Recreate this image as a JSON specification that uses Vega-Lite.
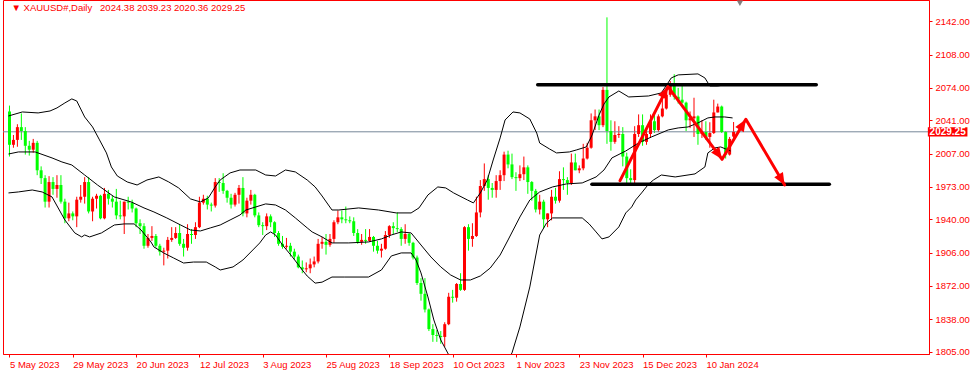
{
"$schema":"https://vega.github.io/schema/vega-lite/v6.json",
"width":926,"height":354,
"autosize":{"type":"none"},
"padding":{"left":3,"top":0,"right":47,"bottom":19},
"background":"white",
"datasets":{
"candles":[
{"d":"2023-05-05","i":0,"o":2050,"h":2056,"l":2004,"c":2016},
{"d":"2023-05-08","i":1,"o":2016,"h":2026,"l":2013,"c":2021},
{"d":"2023-05-09","i":2,"o":2021,"h":2037,"l":2014,"c":2034},
{"d":"2023-05-10","i":3,"o":2034,"h":2048,"l":2021,"c":2030},
{"d":"2023-05-11","i":4,"o":2030,"h":2034,"l":2006,"c":2015},
{"d":"2023-05-12","i":5,"o":2015,"h":2020,"l":2005,"c":2011},
{"d":"2023-05-15","i":6,"o":2011,"h":2022,"l":2008,"c":2018},
{"d":"2023-05-16","i":7,"o":2018,"h":2020,"l":1985,"c":1990},
{"d":"2023-05-17","i":8,"o":1990,"h":1994,"l":1976,"c":1982},
{"d":"2023-05-18","i":9,"o":1982,"h":1985,"l":1952,"c":1958},
{"d":"2023-05-19","i":10,"o":1958,"h":1984,"l":1952,"c":1978},
{"d":"2023-05-22","i":11,"o":1978,"h":1983,"l":1965,"c":1971},
{"d":"2023-05-23","i":12,"o":1971,"h":1985,"l":1962,"c":1975},
{"d":"2023-05-24","i":13,"o":1975,"h":1985,"l":1956,"c":1958},
{"d":"2023-05-25","i":14,"o":1958,"h":1961,"l":1936,"c":1941},
{"d":"2023-05-26","i":15,"o":1941,"h":1957,"l":1938,"c":1946},
{"d":"2023-05-29","i":16,"o":1946,"h":1948,"l":1939,"c":1943},
{"d":"2023-05-30","i":17,"o":1943,"h":1963,"l":1932,"c":1960},
{"d":"2023-05-31","i":18,"o":1960,"h":1975,"l":1957,"c":1963},
{"d":"2023-06-01","i":19,"o":1963,"h":1983,"l":1956,"c":1978},
{"d":"2023-06-02","i":20,"o":1978,"h":1983,"l":1946,"c":1948},
{"d":"2023-06-05","i":21,"o":1948,"h":1963,"l":1938,"c":1961},
{"d":"2023-06-06","i":22,"o":1961,"h":1966,"l":1951,"c":1964},
{"d":"2023-06-07","i":23,"o":1964,"h":1965,"l":1940,"c":1941},
{"d":"2023-06-08","i":24,"o":1941,"h":1972,"l":1940,"c":1966},
{"d":"2023-06-09","i":25,"o":1966,"h":1970,"l":1955,"c":1961},
{"d":"2023-06-12","i":26,"o":1961,"h":1964,"l":1952,"c":1958},
{"d":"2023-06-13","i":27,"o":1958,"h":1971,"l":1940,"c":1944},
{"d":"2023-06-14","i":28,"o":1944,"h":1959,"l":1940,"c":1943},
{"d":"2023-06-15","i":29,"o":1943,"h":1958,"l":1925,"c":1958},
{"d":"2023-06-16","i":30,"o":1958,"h":1963,"l":1950,"c":1957},
{"d":"2023-06-19","i":31,"o":1957,"h":1960,"l":1947,"c":1951},
{"d":"2023-06-20","i":32,"o":1951,"h":1952,"l":1932,"c":1936},
{"d":"2023-06-21","i":33,"o":1936,"h":1940,"l":1925,"c":1933},
{"d":"2023-06-22","i":34,"o":1933,"h":1936,"l":1910,"c":1913},
{"d":"2023-06-23","i":35,"o":1913,"h":1925,"l":1911,"c":1921},
{"d":"2023-06-26","i":36,"o":1921,"h":1933,"l":1918,"c":1923},
{"d":"2023-06-27","i":37,"o":1923,"h":1925,"l":1911,"c":1913},
{"d":"2023-06-28","i":38,"o":1913,"h":1915,"l":1903,"c":1907},
{"d":"2023-06-29","i":39,"o":1907,"h":1911,"l":1893,"c":1908},
{"d":"2023-06-30","i":40,"o":1908,"h":1922,"l":1900,"c":1919},
{"d":"2023-07-03","i":41,"o":1919,"h":1932,"l":1917,"c":1921},
{"d":"2023-07-04","i":42,"o":1921,"h":1932,"l":1920,"c":1926},
{"d":"2023-07-05","i":43,"o":1926,"h":1935,"l":1913,"c":1915},
{"d":"2023-07-06","i":44,"o":1915,"h":1920,"l":1902,"c":1911},
{"d":"2023-07-07","i":45,"o":1911,"h":1935,"l":1908,"c":1925},
{"d":"2023-07-10","i":46,"o":1925,"h":1930,"l":1915,"c":1924},
{"d":"2023-07-11","i":47,"o":1924,"h":1937,"l":1920,"c":1932},
{"d":"2023-07-12","i":48,"o":1932,"h":1963,"l":1931,"c":1957},
{"d":"2023-07-13","i":49,"o":1957,"h":1965,"l":1955,"c":1961},
{"d":"2023-07-14","i":50,"o":1961,"h":1964,"l":1950,"c":1955},
{"d":"2023-07-17","i":51,"o":1955,"h":1957,"l":1948,"c":1954},
{"d":"2023-07-18","i":52,"o":1954,"h":1982,"l":1952,"c":1978},
{"d":"2023-07-19","i":53,"o":1978,"h":1982,"l":1968,"c":1977},
{"d":"2023-07-20","i":54,"o":1977,"h":1987,"l":1966,"c":1969},
{"d":"2023-07-21","i":55,"o":1969,"h":1970,"l":1957,"c":1962},
{"d":"2023-07-24","i":56,"o":1962,"h":1966,"l":1951,"c":1955},
{"d":"2023-07-25","i":57,"o":1955,"h":1967,"l":1953,"c":1965},
{"d":"2023-07-26","i":58,"o":1965,"h":1975,"l":1956,"c":1972},
{"d":"2023-07-27","i":59,"o":1972,"h":1983,"l":1943,"c":1946},
{"d":"2023-07-28","i":60,"o":1946,"h":1962,"l":1942,"c":1959},
{"d":"2023-07-31","i":61,"o":1959,"h":1970,"l":1955,"c":1965},
{"d":"2023-08-01","i":62,"o":1965,"h":1966,"l":1942,"c":1944},
{"d":"2023-08-02","i":63,"o":1944,"h":1947,"l":1932,"c":1934},
{"d":"2023-08-03","i":64,"o":1934,"h":1937,"l":1924,"c":1933},
{"d":"2023-08-04","i":65,"o":1933,"h":1946,"l":1929,"c":1943},
{"d":"2023-08-07","i":66,"o":1943,"h":1945,"l":1932,"c":1937},
{"d":"2023-08-08","i":67,"o":1937,"h":1938,"l":1922,"c":1926},
{"d":"2023-08-09","i":68,"o":1926,"h":1928,"l":1913,"c":1915},
{"d":"2023-08-10","i":69,"o":1915,"h":1923,"l":1910,"c":1912},
{"d":"2023-08-11","i":70,"o":1912,"h":1921,"l":1910,"c":1913},
{"d":"2023-08-14","i":71,"o":1913,"h":1916,"l":1902,"c":1907},
{"d":"2023-08-15","i":72,"o":1907,"h":1910,"l":1899,"c":1902},
{"d":"2023-08-16","i":73,"o":1902,"h":1904,"l":1890,"c":1891},
{"d":"2023-08-17","i":74,"o":1891,"h":1898,"l":1885,"c":1889},
{"d":"2023-08-18","i":75,"o":1889,"h":1896,"l":1886,"c":1890},
{"d":"2023-08-21","i":76,"o":1890,"h":1900,"l":1885,"c":1894},
{"d":"2023-08-22","i":77,"o":1894,"h":1902,"l":1891,"c":1897},
{"d":"2023-08-23","i":78,"o":1897,"h":1920,"l":1895,"c":1915},
{"d":"2023-08-24","i":79,"o":1915,"h":1922,"l":1910,"c":1917},
{"d":"2023-08-25","i":80,"o":1917,"h":1925,"l":1904,"c":1914},
{"d":"2023-08-28","i":81,"o":1914,"h":1925,"l":1912,"c":1920},
{"d":"2023-08-29","i":82,"o":1920,"h":1939,"l":1916,"c":1937},
{"d":"2023-08-30","i":83,"o":1937,"h":1949,"l":1935,"c":1942},
{"d":"2023-08-31","i":84,"o":1942,"h":1949,"l":1936,"c":1940},
{"d":"2023-09-01","i":85,"o":1940,"h":1953,"l":1936,"c":1939},
{"d":"2023-09-04","i":86,"o":1939,"h":1943,"l":1936,"c":1938},
{"d":"2023-09-05","i":87,"o":1938,"h":1942,"l":1923,"c":1926},
{"d":"2023-09-06","i":88,"o":1926,"h":1930,"l":1915,"c":1917},
{"d":"2023-09-07","i":89,"o":1917,"h":1925,"l":1914,"c":1919},
{"d":"2023-09-08","i":90,"o":1919,"h":1930,"l":1915,"c":1918},
{"d":"2023-09-11","i":91,"o":1918,"h":1930,"l":1917,"c":1922},
{"d":"2023-09-12","i":92,"o":1922,"h":1923,"l":1907,"c":1913},
{"d":"2023-09-13","i":93,"o":1913,"h":1918,"l":1905,"c":1908},
{"d":"2023-09-14","i":94,"o":1908,"h":1915,"l":1901,"c":1910},
{"d":"2023-09-15","i":95,"o":1910,"h":1928,"l":1909,"c":1924},
{"d":"2023-09-18","i":96,"o":1924,"h":1934,"l":1921,"c":1933},
{"d":"2023-09-19","i":97,"o":1933,"h":1937,"l":1925,"c":1931},
{"d":"2023-09-20","i":98,"o":1931,"h":1947,"l":1927,"c":1930},
{"d":"2023-09-21","i":99,"o":1930,"h":1932,"l":1913,"c":1920},
{"d":"2023-09-22","i":100,"o":1920,"h":1935,"l":1915,"c":1925},
{"d":"2023-09-25","i":101,"o":1925,"h":1926,"l":1913,"c":1916},
{"d":"2023-09-26","i":102,"o":1916,"h":1917,"l":1899,"c":1901},
{"d":"2023-09-27","i":103,"o":1901,"h":1903,"l":1873,"c":1875},
{"d":"2023-09-28","i":104,"o":1875,"h":1880,"l":1857,"c":1864},
{"d":"2023-09-29","i":105,"o":1864,"h":1880,"l":1845,"c":1848},
{"d":"2023-10-02","i":106,"o":1848,"h":1849,"l":1826,"c":1828},
{"d":"2023-10-03","i":107,"o":1828,"h":1833,"l":1815,"c":1822},
{"d":"2023-10-04","i":108,"o":1822,"h":1827,"l":1815,"c":1821},
{"d":"2023-10-05","i":109,"o":1821,"h":1826,"l":1813,"c":1820},
{"d":"2023-10-06","i":110,"o":1820,"h":1835,"l":1810,"c":1833},
{"d":"2023-10-09","i":111,"o":1833,"h":1865,"l":1832,"c":1861},
{"d":"2023-10-10","i":112,"o":1861,"h":1868,"l":1855,"c":1860},
{"d":"2023-10-11","i":113,"o":1860,"h":1875,"l":1856,"c":1874},
{"d":"2023-10-12","i":114,"o":1874,"h":1885,"l":1867,"c":1868},
{"d":"2023-10-13","i":115,"o":1868,"h":1933,"l":1867,"c":1932},
{"d":"2023-10-16","i":116,"o":1932,"h":1935,"l":1908,"c":1920},
{"d":"2023-10-17","i":117,"o":1920,"h":1936,"l":1912,"c":1923},
{"d":"2023-10-18","i":118,"o":1923,"h":1963,"l":1922,"c":1947},
{"d":"2023-10-19","i":119,"o":1947,"h":1980,"l":1942,"c":1974},
{"d":"2023-10-20","i":120,"o":1974,"h":1997,"l":1969,"c":1981},
{"d":"2023-10-23","i":121,"o":1981,"h":1985,"l":1960,"c":1972},
{"d":"2023-10-24","i":122,"o":1972,"h":1977,"l":1962,"c":1970},
{"d":"2023-10-25","i":123,"o":1970,"h":1985,"l":1962,"c":1979},
{"d":"2023-10-26","i":124,"o":1979,"h":1990,"l":1970,"c":1985},
{"d":"2023-10-27","i":125,"o":1985,"h":2009,"l":1979,"c":2006},
{"d":"2023-10-30","i":126,"o":2006,"h":2010,"l":1992,"c":1996},
{"d":"2023-10-31","i":127,"o":1996,"h":2007,"l":1981,"c":1983},
{"d":"2023-11-01","i":128,"o":1983,"h":1988,"l":1969,"c":1982},
{"d":"2023-11-02","i":129,"o":1982,"h":1995,"l":1979,"c":1986},
{"d":"2023-11-03","i":130,"o":1986,"h":2004,"l":1980,"c":1993},
{"d":"2023-11-06","i":131,"o":1993,"h":1995,"l":1966,"c":1978},
{"d":"2023-11-07","i":132,"o":1978,"h":1979,"l":1959,"c":1969},
{"d":"2023-11-08","i":133,"o":1969,"h":1971,"l":1947,"c":1950},
{"d":"2023-11-09","i":134,"o":1950,"h":1965,"l":1945,"c":1958},
{"d":"2023-11-10","i":135,"o":1958,"h":1960,"l":1931,"c":1940},
{"d":"2023-11-13","i":136,"o":1940,"h":1946,"l":1932,"c":1946},
{"d":"2023-11-14","i":137,"o":1946,"h":1970,"l":1939,"c":1963},
{"d":"2023-11-15","i":138,"o":1963,"h":1972,"l":1956,"c":1959},
{"d":"2023-11-16","i":139,"o":1959,"h":1989,"l":1957,"c":1981},
{"d":"2023-11-17","i":140,"o":1981,"h":1993,"l":1970,"c":1980},
{"d":"2023-11-20","i":141,"o":1980,"h":1983,"l":1965,"c":1977},
{"d":"2023-11-21","i":142,"o":1977,"h":2007,"l":1975,"c":1998},
{"d":"2023-11-22","i":143,"o":1998,"h":2007,"l":1990,"c":1990},
{"d":"2023-11-23","i":144,"o":1990,"h":1995,"l":1987,"c":1992},
{"d":"2023-11-24","i":145,"o":1992,"h":2017,"l":1990,"c":2002},
{"d":"2023-11-27","i":146,"o":2002,"h":2018,"l":2001,"c":2013},
{"d":"2023-11-28","i":147,"o":2013,"h":2048,"l":2012,"c":2041},
{"d":"2023-11-29","i":148,"o":2041,"h":2052,"l":2031,"c":2045},
{"d":"2023-11-30","i":149,"o":2045,"h":2052,"l":2031,"c":2036},
{"d":"2023-12-01","i":150,"o":2036,"h":2075,"l":2034,"c":2072},
{"d":"2023-12-04","i":151,"o":2072,"h":2146,"l":2017,"c":2030},
{"d":"2023-12-05","i":152,"o":2030,"h":2041,"l":2010,"c":2019},
{"d":"2023-12-06","i":153,"o":2019,"h":2040,"l":2017,"c":2026},
{"d":"2023-12-07","i":154,"o":2026,"h":2035,"l":2023,"c":2027},
{"d":"2023-12-08","i":155,"o":2027,"h":2034,"l":1994,"c":2004},
{"d":"2023-12-11","i":156,"o":2004,"h":2008,"l":1976,"c":1982},
{"d":"2023-12-12","i":157,"o":1982,"h":1991,"l":1976,"c":1980},
{"d":"2023-12-13","i":158,"o":1980,"h":2035,"l":1976,"c":2027},
{"d":"2023-12-14","i":159,"o":2027,"h":2047,"l":2024,"c":2036},
{"d":"2023-12-15","i":160,"o":2036,"h":2047,"l":2015,"c":2019},
{"d":"2023-12-18","i":161,"o":2019,"h":2032,"l":2016,"c":2027},
{"d":"2023-12-19","i":162,"o":2027,"h":2047,"l":2023,"c":2040},
{"d":"2023-12-20","i":163,"o":2040,"h":2047,"l":2028,"c":2031},
{"d":"2023-12-21","i":164,"o":2031,"h":2047,"l":2029,"c":2045},
{"d":"2023-12-22","i":165,"o":2045,"h":2071,"l":2044,"c":2053},
{"d":"2023-12-26","i":166,"o":2053,"h":2070,"l":2052,"c":2067},
{"d":"2023-12-27","i":167,"o":2067,"h":2081,"l":2065,"c":2077},
{"d":"2023-12-28","i":168,"o":2077,"h":2088,"l":2062,"c":2065},
{"d":"2023-12-29","i":169,"o":2065,"h":2074,"l":2058,"c":2062},
{"d":"2024-01-02","i":170,"o":2062,"h":2078,"l":2058,"c":2059},
{"d":"2024-01-03","i":171,"o":2059,"h":2060,"l":2030,"c":2041},
{"d":"2024-01-04","i":172,"o":2041,"h":2050,"l":2033,"c":2043},
{"d":"2024-01-05","i":173,"o":2043,"h":2064,"l":2024,"c":2045},
{"d":"2024-01-08","i":174,"o":2045,"h":2046,"l":2016,"c":2027},
{"d":"2024-01-09","i":175,"o":2027,"h":2041,"l":2023,"c":2029},
{"d":"2024-01-10","i":176,"o":2029,"h":2040,"l":2021,"c":2024},
{"d":"2024-01-11","i":177,"o":2024,"h":2039,"l":2013,"c":2028},
{"d":"2024-01-12","i":178,"o":2028,"h":2062,"l":2027,"c":2049},
{"d":"2024-01-15","i":179,"o":2049,"h":2058,"l":2049,"c":2055},
{"d":"2024-01-16","i":180,"o":2055,"h":2056,"l":2028,"c":2029},
{"d":"2024-01-17","i":181,"o":2029,"h":2030,"l":2002,"c":2006},
{"d":"2024-01-18","i":182,"o":2006,"h":2024,"l":2005,"c":2022},
{"d":"2024-01-19","i":183,"o":2024.38,"h":2039.23,"l":2020.36,"c":2029.25}
],
"bb":[
{"b":"u","i":-0.25,"p":2045.4},{"b":"u","i":3.25,"p":2049.5},{"b":"u","i":7.25,"p":2048.5},{"b":"u","i":10.25,"p":2050.5},{"b":"u","i":12,"p":2053.6},{"b":"u","i":14,"p":2058.7},{"b":"u","i":15.75,"p":2062.8},{"b":"u","i":17,"p":2060.7},{"b":"u","i":19,"p":2044.4},{"b":"u","i":21,"p":2034.2},{"b":"u","i":22.75,"p":2021},{"b":"u","i":24.5,"p":2007.7},{"b":"u","i":25.75,"p":1993.4},{"b":"u","i":27.25,"p":1984.2},{"b":"u","i":29.75,"p":1978.1},{"b":"u","i":32.25,"p":1975},{"b":"u","i":34.75,"p":1980.1},{"b":"u","i":37.75,"p":1983.2},{"b":"u","i":40.25,"p":1978.1},{"b":"u","i":42.75,"p":1972},{"b":"u","i":45.75,"p":1960.8},{"b":"u","i":48.25,"p":1957.7},{"b":"u","i":50.25,"p":1961.8},{"b":"u","i":52,"p":1973},{"b":"u","i":53.25,"p":1980.1},{"b":"u","i":55.75,"p":1987.3},{"b":"u","i":58.25,"p":1990.3},{"b":"u","i":62.25,"p":1990.3},{"b":"u","i":64.75,"p":1985.2},{"b":"u","i":67.25,"p":1984.2},{"b":"u","i":69.75,"p":1990.3},{"b":"u","i":72.25,"p":1988.3},{"b":"u","i":75.25,"p":1980.1},{"b":"u","i":77.25,"p":1973},{"b":"u","i":79,"p":1963.8},{"b":"u","i":81.5,"p":1949.5},{"b":"u","i":83.25,"p":1949.5},{"b":"u","i":88.25,"p":1951.6},{"b":"u","i":93.25,"p":1949.5},{"b":"u","i":97.75,"p":1946.5},{"b":"u","i":101.5,"p":1946.5},{"b":"u","i":103.5,"p":1951.6},{"b":"u","i":105.75,"p":1964.8},{"b":"u","i":108.25,"p":1973},{"b":"u","i":110.25,"p":1972},{"b":"u","i":112.25,"p":1966.9},{"b":"u","i":115.75,"p":1959.7},{"b":"u","i":117.25,"p":1956.7},{"b":"u","i":119,"p":1966.9},{"b":"u","i":120.75,"p":1980.1},{"b":"u","i":122.25,"p":2000.5},{"b":"u","i":124,"p":2023},{"b":"u","i":125.25,"p":2041.3},{"b":"u","i":127.25,"p":2049.5},{"b":"u","i":129,"p":2048.5},{"b":"u","i":131.5,"p":2042.3},{"b":"u","i":133.25,"p":2028},{"b":"u","i":134,"p":2017.8},{"b":"u","i":136.5,"p":2011.7},{"b":"u","i":138.25,"p":2007.7},{"b":"u","i":141.5,"p":2008.7},{"b":"u","i":143.25,"p":2010.7},{"b":"u","i":145.75,"p":2013.8},{"b":"u","i":147.25,"p":2026},{"b":"u","i":149,"p":2046.4},{"b":"u","i":150.25,"p":2057.6},{"b":"u","i":151.5,"p":2064.8},{"b":"u","i":154,"p":2070.9},{"b":"u","i":156.5,"p":2064.8},{"b":"u","i":161.5,"p":2065.8},{"b":"u","i":164.75,"p":2068.9},{"b":"u","i":167.25,"p":2084.2},{"b":"u","i":169,"p":2087.3},{"b":"u","i":174,"p":2088.3},{"b":"u","i":175.75,"p":2084.2},{"b":"u","i":177,"p":2076},{"b":"u","i":179,"p":2076},{"b":"u","i":182.25,"p":2078.1},{"b":"u","i":183.25,"p":2077},
{"b":"m","i":-0.25,"p":2006.6},{"b":"m","i":2.25,"p":2008.7},{"b":"m","i":6.5,"p":2008.7},{"b":"m","i":10.75,"p":2002.6},{"b":"m","i":13.25,"p":1998.5},{"b":"m","i":15.75,"p":1995.4},{"b":"m","i":19,"p":1985.2},{"b":"m","i":22.25,"p":1975},{"b":"m","i":26.5,"p":1962.8},{"b":"m","i":30.75,"p":1957.7},{"b":"m","i":34,"p":1951.6},{"b":"m","i":36.5,"p":1947.5},{"b":"m","i":39.75,"p":1941.4},{"b":"m","i":43.25,"p":1934.2},{"b":"m","i":45.75,"p":1929.1},{"b":"m","i":48.25,"p":1928.1},{"b":"m","i":50.75,"p":1931.2},{"b":"m","i":53.25,"p":1934.2},{"b":"m","i":55.75,"p":1939.3},{"b":"m","i":58.25,"p":1944.4},{"b":"m","i":59.75,"p":1949.5},{"b":"m","i":62.25,"p":1952.6},{"b":"m","i":64.75,"p":1955.7},{"b":"m","i":67.25,"p":1954.6},{"b":"m","i":69.75,"p":1949.5},{"b":"m","i":72.25,"p":1941.4},{"b":"m","i":75.25,"p":1931.2},{"b":"m","i":76.5,"p":1927.1},{"b":"m","i":79,"p":1922},{"b":"m","i":81.5,"p":1915.9},{"b":"m","i":85.75,"p":1915.9},{"b":"m","i":90.75,"p":1916.9},{"b":"m","i":94,"p":1920},{"b":"m","i":96.5,"p":1924},{"b":"m","i":99,"p":1927.1},{"b":"m","i":101.5,"p":1926.1},{"b":"m","i":104,"p":1913.8},{"b":"m","i":106.5,"p":1901.6},{"b":"m","i":109,"p":1891.4},{"b":"m","i":111.5,"p":1883.2},{"b":"m","i":114,"p":1878.1},{"b":"m","i":116.5,"p":1878.1},{"b":"m","i":119,"p":1882.2},{"b":"m","i":121.5,"p":1890.3},{"b":"m","i":124,"p":1903.6},{"b":"m","i":126,"p":1918.9},{"b":"m","i":129,"p":1942.4},{"b":"m","i":131.5,"p":1959.7},{"b":"m","i":134,"p":1967.9},{"b":"m","i":137.25,"p":1973},{"b":"m","i":140.75,"p":1976.1},{"b":"m","i":144.75,"p":1977.1},{"b":"m","i":148.25,"p":1983.2},{"b":"m","i":150.25,"p":1990.3},{"b":"m","i":152.25,"p":2002.6},{"b":"m","i":155.75,"p":2009.7},{"b":"m","i":159,"p":2017.9},{"b":"m","i":162.25,"p":2024},{"b":"m","i":166.5,"p":2031.2},{"b":"m","i":169,"p":2033.2},{"b":"m","i":171.5,"p":2034.2},{"b":"m","i":174,"p":2038.3},{"b":"m","i":176.5,"p":2043.4},{"b":"m","i":178.25,"p":2044.4},{"b":"m","i":180.75,"p":2044.4},{"b":"m","i":182.75,"p":2043.4},
{"b":"l","i":-0.25,"p":1966.9},{"b":"l","i":2.25,"p":1967.9},{"b":"l","i":5.75,"p":1969.9},{"b":"l","i":8.25,"p":1967.9},{"b":"l","i":10.75,"p":1962.8},{"b":"l","i":14,"p":1939.3},{"b":"l","i":16.5,"p":1926.1},{"b":"l","i":18.25,"p":1922},{"b":"l","i":19,"p":1924},{"b":"l","i":20.25,"p":1922},{"b":"l","i":23.25,"p":1926.1},{"b":"l","i":26.5,"p":1934.2},{"b":"l","i":29,"p":1935.3},{"b":"l","i":31.5,"p":1935.3},{"b":"l","i":33.25,"p":1929.1},{"b":"l","i":35.75,"p":1916.9},{"b":"l","i":36.5,"p":1911.8},{"b":"l","i":39,"p":1905.6},{"b":"l","i":41.5,"p":1900.5},{"b":"l","i":44,"p":1895.4},{"b":"l","i":46.5,"p":1896.4},{"b":"l","i":49.75,"p":1896.4},{"b":"l","i":52,"p":1891.4},{"b":"l","i":53.25,"p":1888.3},{"b":"l","i":56.5,"p":1891.4},{"b":"l","i":59,"p":1898.5},{"b":"l","i":61.5,"p":1908.7},{"b":"l","i":63.25,"p":1915.9},{"b":"l","i":64.75,"p":1924},{"b":"l","i":66,"p":1927.1},{"b":"l","i":67.25,"p":1924},{"b":"l","i":69,"p":1913.8},{"b":"l","i":71.5,"p":1901.6},{"b":"l","i":74,"p":1888.3},{"b":"l","i":75.25,"p":1882.1},{"b":"l","i":77.25,"p":1874.9},{"b":"l","i":79,"p":1875.9},{"b":"l","i":81.5,"p":1881.1},{"b":"l","i":84.75,"p":1881.1},{"b":"l","i":90.75,"p":1881.1},{"b":"l","i":94,"p":1888.3},{"b":"l","i":96.5,"p":1902.6},{"b":"l","i":99,"p":1905.7},{"b":"l","i":101.5,"p":1905.7},{"b":"l","i":102.75,"p":1898.5},{"b":"l","i":104,"p":1885.3},{"b":"l","i":105.75,"p":1860.8},{"b":"l","i":107.25,"p":1837.3},{"b":"l","i":109,"p":1816.9},{"b":"l","i":110.75,"p":1803.7},{"b":"l","i":112.5,"p":1790},{"b":"l","i":116,"p":1784},{"b":"l","i":120,"p":1780},{"b":"l","i":124,"p":1784},{"b":"l","i":127,"p":1803.7},{"b":"l","i":129,"p":1830.2},{"b":"l","i":131.5,"p":1871},{"b":"l","i":134,"p":1924},{"b":"l","i":135.75,"p":1936.3},{"b":"l","i":137.25,"p":1941.4},{"b":"l","i":144.75,"p":1941.4},{"b":"l","i":146.5,"p":1935.3},{"b":"l","i":148.25,"p":1927.1},{"b":"l","i":149.75,"p":1920},{"b":"l","i":151.5,"p":1922},{"b":"l","i":154,"p":1932.2},{"b":"l","i":155.75,"p":1946.5},{"b":"l","i":157.25,"p":1952.6},{"b":"l","i":158.25,"p":1959.7},{"b":"l","i":159.75,"p":1966.9},{"b":"l","i":161.5,"p":1975.8},{"b":"l","i":162.75,"p":1980.1},{"b":"l","i":164.75,"p":1985.2},{"b":"l","i":168.25,"p":1983.2},{"b":"l","i":173.25,"p":1986.3},{"b":"l","i":175.75,"p":1993.4},{"b":"l","i":176.5,"p":2007.7},{"b":"l","i":178.25,"p":2012.8},{"b":"l","i":179.75,"p":2013.8},{"b":"l","i":182.25,"p":2009.7}
],
"levels":[{"i":133.5,"i2":203.9,"p":2077.2},{"i":147.2,"i2":207.2,"p":1975.8}],
"arrow":[{"k":"A","i":154.3,"p":1979.4},{"k":"B","i":166.4,"p":2075.3},{"k":"C","i":180.1,"p":2001.2},{"k":"D","i":186.1,"p":2042.0},{"k":"E","i":195.9,"p":1975.0}]
},
"config":{
"view":{"stroke":"#ff0000","strokeWidth":1},
"axis":{"grid":false,"domainColor":"#ff0000","tickColor":"#ff0000","labelColor":"#ff0000","labelFont":"Liberation Sans","labelFontSize":9.5,"tickSize":3,"domainWidth":1,"tickWidth":1,"labelOverlap":false,"labelFlush":false,"labelBound":false}
},
"layer":[
{"data":{"name":"candles"},"mark":{"type":"rule","strokeWidth":1},
 "encoding":{
  "x":{"field":"i","type":"quantitative","title":null,"scale":{"domain":[-0.375,231.125],"nice":false,"zero":false},
       "axis":{"orient":"bottom","values":[0,16,32,48,64,80,96,112,128,144,160,176],"tickCount":40,"labelExpr":"['5 May 2023','29 May 2023','20 Jun 2023','12 Jul 2023','3 Aug 2023','25 Aug 2023','18 Sep 2023','10 Oct 2023','1 Nov 2023','23 Nov 2023','15 Dec 2023','10 Jan 2024'][round(datum.value/16)]","labelAlign":"left","labelBaseline":"top","labelPadding":2,"labelOverlap":false}},
  "y":{"field":"l","type":"quantitative","title":null,"scale":{"domain":[1802.6,2163.7],"nice":false,"zero":false},
       "axis":{"orient":"right","values":[1805,1838,1872,1906,1940,1973,2007,2041,2074,2108,2142],"tickCount":30,"format":".2f","labelPadding":3,"labelBaseline":"middle","labelOverlap":false}},
  "y2":{"field":"h"},
  "color":{"condition":{"test":"datum.c >= datum.o","value":"#ff0000"},"value":"#00ff00"}
 }},
{"data":{"values":[{}]},"mark":{"type":"rule","color":"#778899","strokeWidth":1},"encoding":{"y":{"datum":2029.25,"type":"quantitative","title":null}}},
{"data":{"name":"candles"},"mark":{"type":"bar","size":3},
 "encoding":{
  "x":{"field":"i","type":"quantitative","title":null},
  "y":{"field":"o","type":"quantitative","title":null},
  "y2":{"field":"c"},
  "color":{"condition":{"test":"datum.c >= datum.o","value":"#ff0000"},"value":"#00ff00"}
 }},
{"data":{"name":"bb"},"mark":{"type":"line","color":"black","strokeWidth":1,"clip":true},
 "encoding":{"x":{"field":"i","type":"quantitative","title":null},"y":{"field":"p","type":"quantitative","title":null},"detail":{"field":"b"}}},
{"data":{"name":"levels"},"mark":{"type":"rule","color":"black","strokeWidth":3.5,"strokeCap":"round"},
 "encoding":{"x":{"field":"i","type":"quantitative","title":null},"x2":{"field":"i2"},"y":{"field":"p","type":"quantitative","title":null}}},
{"data":{"name":"arrow"},"mark":{"type":"line","color":"#ff0000","strokeWidth":3,"strokeJoin":"round","strokeCap":"round"},
 "encoding":{"x":{"field":"i","type":"quantitative","title":null},"y":{"field":"p","type":"quantitative","title":null}}},
{"data":{"name":"arrow"},"transform":[{"filter":"datum.k=='B'"}],"mark":{"type":"point","shape":"M0,0L0.5,1.2L-0.5,1.2Z","size":400,"filled":true,"color":"#ff0000","opacity":1,"strokeWidth":0,"angle":27.6},
 "encoding":{"x":{"field":"i","type":"quantitative","title":null},"y":{"field":"p","type":"quantitative","title":null}}},
{"data":{"name":"arrow"},"transform":[{"filter":"datum.k=='C'"}],"mark":{"type":"point","shape":"M0,0L0.5,1.2L-0.5,1.2Z","size":400,"filled":true,"color":"#ff0000","opacity":1,"strokeWidth":0,"angle":144.6},
 "encoding":{"x":{"field":"i","type":"quantitative","title":null},"y":{"field":"p","type":"quantitative","title":null}}},
{"data":{"name":"arrow"},"transform":[{"filter":"datum.k=='D'"}],"mark":{"type":"point","shape":"M0,0L0.5,1.2L-0.5,1.2Z","size":400,"filled":true,"color":"#ff0000","opacity":1,"strokeWidth":0,"angle":31.6},
 "encoding":{"x":{"field":"i","type":"quantitative","title":null},"y":{"field":"p","type":"quantitative","title":null}}},
{"data":{"name":"arrow"},"transform":[{"filter":"datum.k=='E'"}],"mark":{"type":"point","shape":"M0,0L0.5,1.2L-0.5,1.2Z","size":400,"filled":true,"color":"#ff0000","opacity":1,"strokeWidth":0,"angle":149.8},
 "encoding":{"x":{"field":"i","type":"quantitative","title":null},"y":{"field":"p","type":"quantitative","title":null}}},
{"data":{"values":[{}]},"mark":{"type":"point","shape":"triangle-down","size":40,"filled":true,"color":"#808080","opacity":1,"strokeWidth":0},
 "encoding":{"x":{"datum":184.6,"type":"quantitative","title":null},"y":{"datum":2160.5,"type":"quantitative","title":null}}},
{"data":{"values":[{}]},"mark":{"type":"rect","color":"#ff0000"},
 "encoding":{"x":{"datum":232.1,"type":"quantitative","title":null},"x2":{"datum":242.1},"y":{"datum":2024.5,"type":"quantitative","title":null},"y2":{"datum":2034}}},
{"data":{"values":[{}]},"mark":{"type":"text","text":"2029.25","color":"white","font":"Liberation Sans","fontSize":10,"fontWeight":"bold","align":"center","baseline":"middle"},
 "encoding":{"x":{"datum":237.1,"type":"quantitative","title":null},"y":{"datum":2029.25,"type":"quantitative","title":null}}},
{"data":{"values":[{}]},"mark":{"type":"text","text":"▼\u00a0XAUUSD#,Daily\u00a0\u00a0 2024.38 2039.23 2020.36 2029.25","color":"#ff0000","font":"Liberation Sans","fontSize":9.5,"align":"left","baseline":"alphabetic","dx":3.5,"dy":11},
 "encoding":{"x":{"datum":-0.375,"type":"quantitative","title":null},"y":{"datum":2163.7,"type":"quantitative","title":null}}}
]
}
